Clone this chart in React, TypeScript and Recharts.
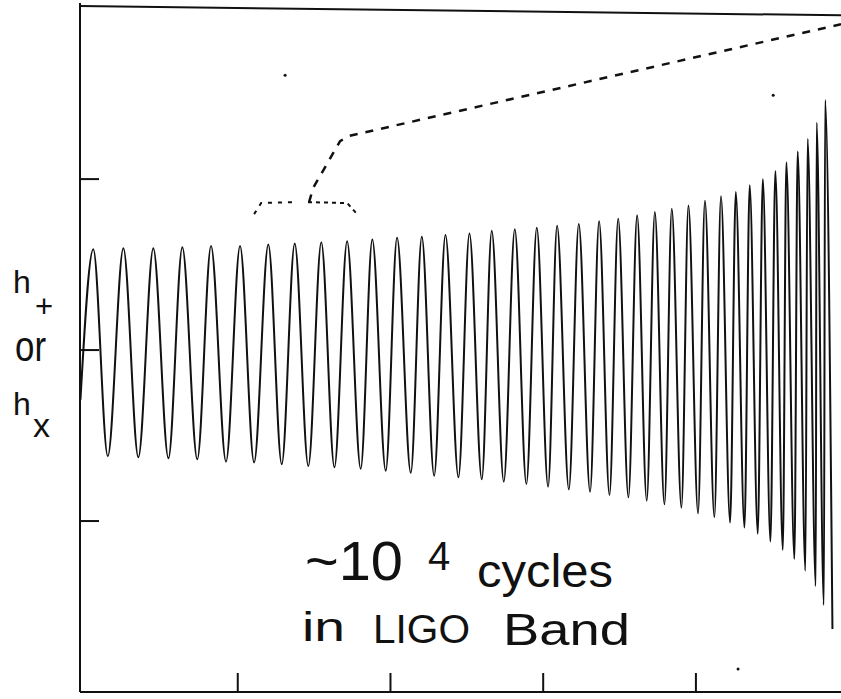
import { Line, LineChart, ReferenceDot, XAxis, YAxis } from "recharts";

// time axis ticks (arbitrary units) and strain ticks
const timeTicks = [1, 2, 3, 4];
const strainTicks = [-1, 0, 1];

// crests of the chirp: time and height
const crestTime = [
  0.054, 0.251, 0.447, 0.637, 0.825, 1.015, 1.2, 1.373, 1.547, 1.716, 1.881, 2.043, 2.205,
  2.36, 2.517, 2.663, 2.814, 2.958, 3.091, 3.233, 3.366, 3.491, 3.615, 3.731, 3.842, 3.951,
  4.059, 4.164, 4.261, 4.352, 4.438, 4.52, 4.592, 4.666, 4.731, 4.79, 4.846,
];
const crestH = [
  0.589, 0.595, 0.595, 0.601, 0.608, 0.608, 0.618, 0.624, 0.63, 0.637, 0.647, 0.657, 0.663,
  0.673, 0.682, 0.698, 0.706, 0.715, 0.727, 0.737, 0.754, 0.768, 0.789, 0.807, 0.826, 0.846,
  0.873, 0.899, 0.925, 0.964, 1.0, 1.048, 1.098, 1.162, 1.235, 1.33, 1.462,
];

// troughs of the chirp
const troughTime = [
  0.149, 0.349, 0.546, 0.735, 0.923, 1.107, 1.288, 1.462, 1.633, 1.805, 1.969, 2.133, 2.286,
  2.445, 2.598, 2.742, 2.89, 3.032, 3.168, 3.307, 3.434, 3.558, 3.678, 3.794, 3.905, 4.014,
  4.121, 4.224, 4.318, 4.405, 4.488, 4.569, 4.645, 4.717, 4.785, 4.838, 4.894,
];
const troughH = [
  -0.62, -0.627, -0.633, -0.639, -0.653, -0.657, -0.668, -0.678, -0.686, -0.694, -0.706, -0.718,
  -0.735, -0.744, -0.756, -0.77, -0.784, -0.799, -0.815, -0.829, -0.848, -0.861, -0.881, -0.902,
  -0.922, -0.955, -0.977, -1.009, -1.038, -1.074, -1.12, -1.17, -1.222, -1.291, -1.38, -1.491,
  -1.632,
];

const startPoint = { t: -0.03, h: -0.29 };

// top edge of the frame (the scan is slightly tilted)
const topEdge = [
  { t: -0.033, h: 2.012 },
  { t: 4.95, h: 1.958 },
];

// dashed "zoom" pointer and the dotted bracket over a few cycles
const pointerPath = [
  { t: 1.467, h: 0.865 },
  { t: 1.493, h: 0.947 },
  { t: 1.67, h: 1.222 },
  { t: 1.722, h: 1.251 },
  { t: 4.95, h: 1.906 },
];
const bracketLeft = [
  { t: 1.107, h: 0.795 },
  { t: 1.153, h: 0.86 },
  { t: 1.356, h: 0.865 },
];
const bracketRight = [
  { t: 1.46, h: 0.865 },
  { t: 1.716, h: 0.86 },
  { t: 1.788, h: 0.789 },
];

// specks on the scan
const specks = [
  { t: 1.31, h: 1.608 },
  { t: 4.506, h: 1.491 },
  { t: 4.276, h: -1.865 },
];

const wave = [
  startPoint,
  ...crestTime.flatMap((t, i) => [
    { t, h: crestH[i] },
    { t: troughTime[i], h: troughH[i] },
  ]),
];

const ink = "#111";
const labelFont = "'Liberation Sans', Arial, sans-serif";
const noLabel = () => "";

// inward tick marks on the time axis, only for the listed ticks
function TimeTick(props: any) {
  const { x, payload } = props;
  if (!timeTicks.includes(payload?.value)) return <g />;
  return <line x1={x} x2={x} y1={692} y2={673} stroke={ink} strokeWidth={2} />;
}

export default function App() {
  return (
    <div style={{ position: "absolute", left: 0, top: 0, width: 841, height: 699, background: "#fff" }}>
      <LineChart width={841} height={699} margin={{ top: 3, right: 0, bottom: 7, left: 80 }}>
        <XAxis
          type="number"
          dataKey="t"
          domain={[-0.033, 4.95]}
          ticks={timeTicks}
          allowDataOverflow
          mirror
          tick={<TimeTick />}
          tickLine={false}
          height={1}
          axisLine={{ stroke: ink, strokeWidth: 2 }}
        />
        <YAxis
          type="number"
          dataKey="h"
          domain={[-2, 2.03]}
          ticks={strainTicks}
          allowDataOverflow
          mirror
          tickFormatter={noLabel}
          tickSize={19}
          width={1}
          axisLine={{ stroke: ink, strokeWidth: 2 }}
          tickLine={{ stroke: ink, strokeWidth: 2 }}
        />
        <Line
          data={topEdge}
          dataKey="h"
          type="linear"
          stroke={ink}
          strokeWidth={2}
          dot={false}
          isAnimationActive={false}
        />
        <Line
          data={wave}
          dataKey="h"
          type="monotone"
          stroke={ink}
          strokeWidth={2}
          dot={false}
          isAnimationActive={false}
        />
        <Line
          data={pointerPath}
          dataKey="h"
          type="linear"
          stroke={ink}
          strokeWidth={2.5}
          strokeDasharray="8 8"
          dot={false}
          isAnimationActive={false}
        />
        <Line
          data={bracketLeft}
          dataKey="h"
          type="linear"
          stroke={ink}
          strokeWidth={2}
          strokeDasharray="4 6"
          dot={false}
          isAnimationActive={false}
        />
        <Line
          data={bracketRight}
          dataKey="h"
          type="linear"
          stroke={ink}
          strokeWidth={2}
          strokeDasharray="4 4"
          dot={false}
          isAnimationActive={false}
        />
        {specks.map((s, i) => (
          <ReferenceDot key={i} x={s.t} y={s.h} r={1.5} fill={ink} stroke="none" ifOverflow="visible" />
        ))}
      </LineChart>
      <svg width={841} height={699} style={{ position: "absolute", left: 0, top: 0, pointerEvents: "none" }}>
        <g fill={ink} fontFamily={labelFont}>
          <text x={13} y={293} fontSize={32}>h</text>
          <text x={35} y={317} fontSize={31}>+</text>
          <text x={15} y={361} fontSize={42} textLength={31} lengthAdjust="spacingAndGlyphs">or</text>
          <text x={13} y={415} fontSize={32}>h</text>
          <text x={33} y={437} fontSize={34} textLength={17} lengthAdjust="spacingAndGlyphs">x</text>
        </g>
        <g fill={ink} fontFamily={labelFont}>
          <text x={305} y={580} fontSize={56} textLength={98} lengthAdjust="spacingAndGlyphs">~10</text>
          <text x={428} y={570} fontSize={40}>4</text>
          <text x={477} y={587} fontSize={46} textLength={136} lengthAdjust="spacingAndGlyphs">cycles</text>
          <text x={302} y={641} fontSize={40} textLength={43} lengthAdjust="spacingAndGlyphs">in</text>
          <text x={373} y={643} fontSize={40} textLength={97} lengthAdjust="spacingAndGlyphs">LIGO</text>
          <text x={503} y={645} fontSize={44} textLength={127} lengthAdjust="spacingAndGlyphs">Band</text>
        </g>
      </svg>
    </div>
  );
}
